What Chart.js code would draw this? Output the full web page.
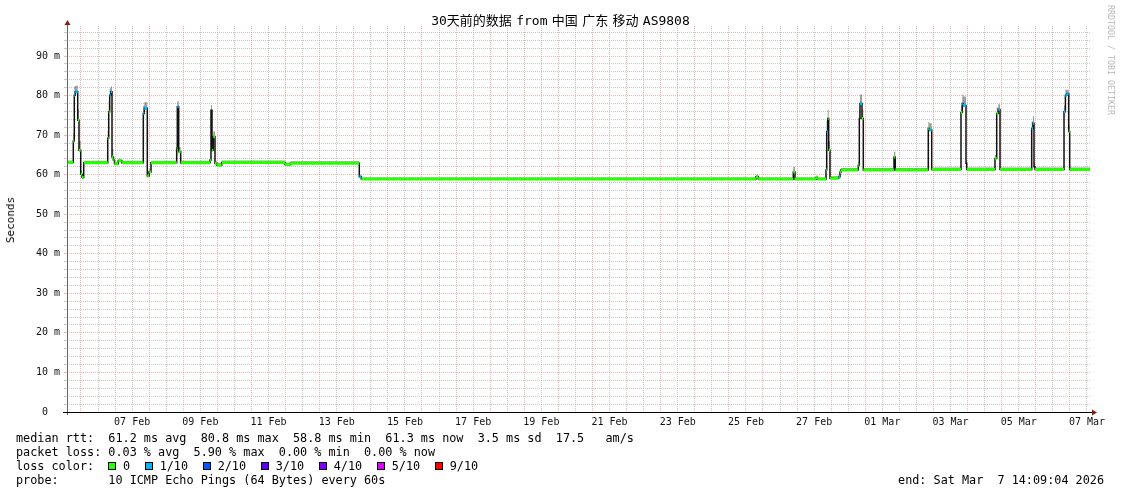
<!DOCTYPE html>
<html>
<head>
<meta charset="utf-8">
<script src="https://cdn.jsdelivr.net/npm/chart.js@4.4.1/dist/chart.umd.min.js"></script>
<style>
  body { margin: 0; background: #fff; }
  #wrap { position: relative; width: 1121px; height: 494px; overflow: hidden;
          font-family: "DejaVu Sans Mono", "Noto Sans CJK SC", monospace; color: #000; }
  canvas { position: absolute; left: 0; top: 0; }
  .t { position: absolute; white-space: pre; line-height: 14px; }
  #title { left: 0; width: 1121px; top: 13px; text-align: center; font-size: 13px; line-height: 16px; word-spacing: -3.5px; }
  #ytitle { left: 11px; top: 220px; font-size: 11px; transform: translate(-50%, -50%) rotate(-90deg); }
  #credit { left: 1111px; top: 60px; font-size: 8.3px; color: #b8b8b8; transform: translate(-50%, -50%) rotate(90deg); }
  .stat { left: 16px; font-size: 11.8px; }
  #end { right: 17px; left: auto; }
  #lossRow { display: flex; align-items: center; }
  .sw { display: inline-block; width: 6px; height: 6px; border: 1px solid #000; margin-right: 6.6px; }
  .lab { margin-right: 15px; }
</style>
</head>
<body>
<div id="wrap">
  <canvas id="chart" width="1121" height="494"></canvas>
  <div class="t" id="title">30天前的数据 from 中国 广东 移动 AS9808</div>
  <div class="t" id="ytitle">Seconds</div>
  <div class="t" id="credit">RRDTOOL / TOBI OETIKER</div>
  <div class="t stat" style="top:431px">median rtt:  61.2 ms avg  80.8 ms max  58.8 ms min  61.3 ms now  3.5 ms sd  17.5   am/s</div>
  <div class="t stat" style="top:445px">packet loss: 0.03 % avg  5.90 % max  0.00 % min  0.00 % now</div>
  <div class="t stat" style="top:459px" id="lossRow"><span>loss color:  </span></div>
  <div class="t stat" style="top:473px">probe:       10 ICMP Echo Pings (64 Bytes) every 60s</div>
  <div class="t stat" id="end" style="top:473px">end: Sat Mar  7 14:09:04 2026</div>
</div>
<script>
// time axis: days since start (Thu Feb 5 14:09:04 2026), 30 days shown
const endDay = 30;
const firstMidnight = 0.4103;   // Feb 6 00:00
const firstLabelDay = 1.9103;   // Feb 7 12:00
const dayLabels = ['07 Feb', '09 Feb', '11 Feb', '13 Feb', '15 Feb', '17 Feb', '19 Feb', '21 Feb',
                   '23 Feb', '25 Feb', '27 Feb', '01 Mar', '03 Mar', '05 Mar', '07 Mar'];
const yMax = 97.6;

// median rtt steps (ms); each step lasts until the next start
const segDay = [
  0.000, 0.185, 0.214, 0.243, 0.314, 0.352, 0.402, 0.440, 0.490,
  1.194, 1.223, 1.252, 1.282, 1.320, 1.358, 1.393, 1.504, 1.604,
  2.238, 2.267, 2.355, 2.413, 2.463,
  3.217, 3.235, 3.276, 3.334,
  4.194, 4.223, 4.252, 4.290, 4.340, 4.390, 4.537,
  6.393, 6.560, 8.572, 8.630,
  20.205, 20.273, 21.299, 21.349, 21.965, 22.003,
  22.258, 22.279, 22.308, 22.337, 22.375, 22.630, 22.669, 22.698,
  23.205, 23.235, 23.255, 23.314, 23.352,
  24.252, 24.290,
  25.258, 25.287, 25.358,
  26.217, 26.255, 26.284, 26.364, 26.384,
  27.214, 27.264, 27.311, 27.361,
  28.290, 28.328, 28.358, 28.387,
  29.238, 29.279, 29.317, 29.375, 29.404
];
const medianMs = [
  63.1, 68.5, 80.1, 81.0, 73.8, 66.2, 60.1, 59.3, 63.0,
  69.2, 75.9, 80.1, 81.0, 64.5, 63.7, 62.8, 63.5, 63.0,
  75.5, 76.8, 59.7, 60.7, 63.0,
  66.7, 77.2, 65.8, 63.0,
  63.7, 76.3, 66.2, 69.6, 62.9, 62.4, 63.1,
  62.6, 62.9, 59.5, 58.9,
  59.5, 58.9, 60.7, 58.9, 59.3, 58.9,
  61.2, 70.9, 74.2, 66.2, 59.1, 59.5, 60.7, 61.2,
  62.4, 74.2, 78.0, 74.2, 61.2,
  64.5, 61.2,
  71.7, 71.3, 61.3,
  75.7, 78.0, 77.5, 62.9, 61.3,
  64.1, 75.5, 76.5, 61.3,
  71.7, 73.0, 62.0, 61.3,
  75.9, 80.1, 80.5, 70.9, 61.3
];
const lossTenths = [
  0, 0, 1, 1, 0, 0, 0, 0, 0,
  0, 0, 1, 1, 0, 0, 0, 0, 0,
  1, 1, 0, 0, 0,
  0, 1, 0, 0,
  0, 1, 0, 0, 0, 0, 0,
  0, 0, 1, 0,
  0, 0, 0, 0, 0, 0,
  0, 1, 0, 0, 0, 1, 0, 0,
  0, 0, 1, 0, 0,
  0, 0,
  0, 1, 0,
  0, 1, 1, 0, 0,
  0, 0, 1, 0,
  1, 1, 0, 0,
  1, 1, 1, 0, 0
];
const smokeMaxMs = [
  63.6, 70.5, 82.3, 82.5, 76.5, 68.5, 61.0, 60.0, 63.5,
  71.0, 78.5, 81.8, 82.3, 66.5, 64.5, 63.3, 64.0, 63.5,
  77.5, 78.3, 61.0, 61.5, 63.5,
  68.0, 78.6, 67.0, 63.5,
  64.5, 77.6, 67.5, 71.0, 63.5, 63.0, 63.6,
  63.1, 63.4, 60.0, 59.3,
  60.0, 59.3, 62.0, 59.3, 59.8, 59.3,
  62.0, 73.5, 76.5, 68.5, 59.6, 60.0, 61.3, 61.7,
  63.2, 76.5, 80.3, 76.5, 61.7,
  65.8, 61.7,
  73.3, 73.0, 61.8,
  77.5, 80.3, 79.8, 63.8, 61.8,
  65.0, 77.0, 77.8, 61.8,
  73.5, 74.8, 63.0, 61.8,
  77.5, 81.5, 81.5, 72.5, 61.8
];

const lossColors = ['#26ff00', '#00b8ff', '#0059ff', '#5e00ff', '#7e00ff', '#dd00ff', '#ff0000'];
const lossLabels = ['0', '1/10', '2/10', '3/10', '4/10', '5/10', '9/10'];

// legend row
const lossRow = document.getElementById('lossRow');
lossLabels.forEach((lab, i) => {
  const sw = document.createElement('span');
  sw.className = 'sw';
  sw.style.background = lossColors[i];
  const tx = document.createElement('span');
  tx.className = 'lab';
  tx.textContent = lab;
  lossRow.appendChild(sw);
  lossRow.appendChild(tx);
});

// step series for the library
function stepPoints(values) {
  const pts = segDay.map((d, i) => ({ x: d, y: values[i] }));
  pts.push({ x: endDay, y: values[values.length - 1] });
  return pts;
}

// horizontal pieces of the median for one loss level, broken by gaps
function lossPieces(level) {
  const pts = [];
  segDay.forEach((d, i) => {
    if (lossTenths[i] !== level) return;
    const next = i + 1 < segDay.length ? segDay[i + 1] : endDay;
    pts.push({ x: d, y: medianMs[i] }, { x: next, y: medianMs[i] }, { x: next, y: null });
  });
  return pts;
}

const redGrid = 'rgba(240, 120, 120, 0.55)';
const grayGrid = 'rgba(165, 165, 165, 0.6)';

const axisPlugin = {
  id: 'rrdAxes',
  afterDraw(chart) {
    const { ctx, chartArea: a } = chart;
    ctx.save();
    ctx.lineWidth = 1;
    ctx.strokeStyle = '#666';
    ctx.beginPath();
    ctx.moveTo(a.left + 0.5, a.bottom + 3);
    ctx.lineTo(a.left + 0.5, a.top - 3);
    ctx.stroke();
    ctx.strokeStyle = '#000';
    ctx.beginPath();
    ctx.moveTo(a.left - 4, a.bottom + 0.5);
    ctx.lineTo(a.right + 3, a.bottom + 0.5);
    ctx.stroke();
    ctx.fillStyle = '#8b1a1a';
    ctx.beginPath();
    ctx.moveTo(a.left - 2.5, a.top - 1);
    ctx.lineTo(a.left + 3.5, a.top - 1);
    ctx.lineTo(a.left + 0.5, a.top - 6);
    ctx.closePath();
    ctx.fill();
    ctx.beginPath();
    ctx.moveTo(a.right + 2, a.bottom - 2.5);
    ctx.lineTo(a.right + 2, a.bottom + 3.5);
    ctx.lineTo(a.right + 7, a.bottom + 0.5);
    ctx.closePath();
    ctx.fill();
    ctx.restore();
  }
};

new Chart(document.getElementById('chart'), {
  type: 'line',
  data: {
    datasets: [
      {
        label: 'loss 0', data: lossPieces(0), borderColor: lossColors[0],
        borderWidth: 3, borderCapStyle: 'butt', pointRadius: 0, spanGaps: false, order: 0
      },
      {
        label: 'loss 1/10', data: lossPieces(1), borderColor: lossColors[1],
        borderWidth: 3, borderCapStyle: 'butt', pointRadius: 0, spanGaps: false, order: 0
      },
      {
        label: 'median', data: stepPoints(medianMs), borderColor: '#111',
        borderWidth: 1.5, pointRadius: 0, stepped: true, order: 1
      },
      {
        label: 'smoke', data: stepPoints(smokeMaxMs), borderColor: 'rgba(0,0,0,0)',
        borderWidth: 0, pointRadius: 0, stepped: true, fill: 2,
        backgroundColor: 'rgba(60, 60, 60, 0.5)', order: 2
      }
    ]
  },
  options: {
    responsive: false,
    animation: false,
    events: [],
    layout: { padding: { left: 0, right: 31, top: 26, bottom: 62 } },
    plugins: { legend: { display: false }, tooltip: { enabled: false } },
    scales: {
      x: {
        type: 'linear', min: 0, max: endDay,
        afterFit: s => { s.height = 20; },
        afterBuildTicks: s => {
          const ticks = [];
          for (let k = 0; k < 30; k++) {
            const m = firstMidnight + k;
            if (m < endDay) ticks.push({ value: m, major: true });
            if (m + 0.5 < endDay) ticks.push({ value: m + 0.5, major: false });
          }
          s.ticks = ticks;
        },
        grid: {
          drawTicks: false, lineWidth: 1,
          color: c => (c.tick && c.tick.major ? redGrid : grayGrid)
        },
        border: { display: false, dash: [1, 1] },
        ticks: {
          autoSkip: false, maxRotation: 0, minRotation: 0, padding: 4,
          color: '#111', font: { family: 'DejaVu Sans Mono', size: 10 },
          callback: v => {
            const k = Math.round((v - firstLabelDay) / 2);
            if (k >= 0 && k < dayLabels.length && Math.abs(v - (firstLabelDay + 2 * k)) < 0.01) return dayLabels[k];
            return '';
          }
        }
      },
      y: {
        type: 'linear', min: 0, max: yMax,
        afterFit: s => { s.width = 67; },
        afterBuildTicks: s => {
          const ticks = [];
          for (let v = 0; v <= 96; v += 2) ticks.push({ value: v, major: v % 10 === 0 });
          s.ticks = ticks;
        },
        grid: {
          drawTicks: true, tickLength: 3, lineWidth: 1,
          color: c => (c.tick && c.tick.major ? redGrid : grayGrid)
        },
        border: { display: false, dash: [1, 1] },
        ticks: {
          autoSkip: false, padding: 4, color: '#111',
          font: { family: 'DejaVu Sans Mono', size: 10 },
          callback: v => (v % 10 !== 0 ? '' : (v === 0 ? '0  ' : v + ' m'))
        }
      }
    }
  },
  plugins: [axisPlugin]
});
</script>
</body>
</html>
